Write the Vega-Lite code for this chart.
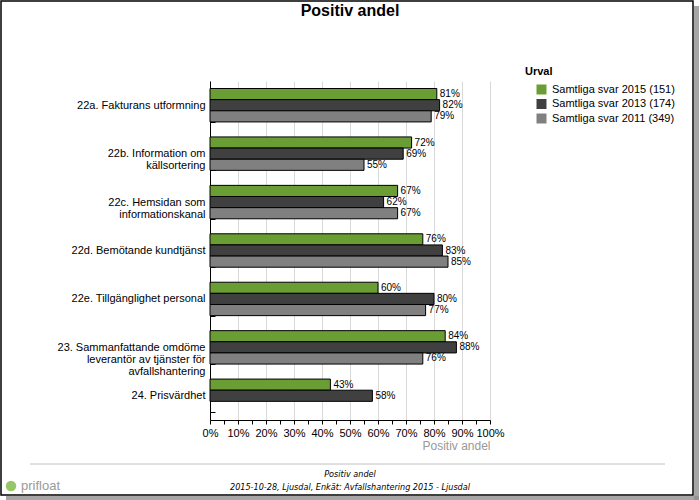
{
  "$schema": "https://vega.github.io/schema/vega-lite/v6.json",
  "autosize": {"type": "none"},
  "width": 280,
  "height": 339,
  "padding": {"left": 210, "top": 81, "right": 210, "bottom": 80},
  "background": "white",
  "config": {
    "font": "Liberation Sans",
    "view": {"stroke": null},
    "axis": {"labelFont": "Liberation Sans", "titleFont": "Liberation Sans", "labelOverlap": false},
    "axisX": {"labelOverlap": false, "labelSeparation": 0}
  },
  "title": {
    "text": "Positiv andel",
    "fontSize": 16,
    "fontWeight": "bold",
    "font": "Liberation Sans",
    "color": "black",
    "anchor": "middle",
    "frame": "group",
    "offset": -19
  },
  "data": {
    "values": [
      {"fraga": "22a. Fakturans utformning", "urval": "Samtliga svar 2015 (151)", "andel": 0.81},
      {"fraga": "22a. Fakturans utformning", "urval": "Samtliga svar 2013 (174)", "andel": 0.82},
      {"fraga": "22a. Fakturans utformning", "urval": "Samtliga svar 2011 (349)", "andel": 0.79},
      {"fraga": "22b. Information om|källsortering", "urval": "Samtliga svar 2015 (151)", "andel": 0.72},
      {"fraga": "22b. Information om|källsortering", "urval": "Samtliga svar 2013 (174)", "andel": 0.69},
      {"fraga": "22b. Information om|källsortering", "urval": "Samtliga svar 2011 (349)", "andel": 0.55},
      {"fraga": "22c. Hemsidan som|informationskanal", "urval": "Samtliga svar 2015 (151)", "andel": 0.67},
      {"fraga": "22c. Hemsidan som|informationskanal", "urval": "Samtliga svar 2013 (174)", "andel": 0.62},
      {"fraga": "22c. Hemsidan som|informationskanal", "urval": "Samtliga svar 2011 (349)", "andel": 0.67},
      {"fraga": "22d. Bemötande kundtjänst", "urval": "Samtliga svar 2015 (151)", "andel": 0.76},
      {"fraga": "22d. Bemötande kundtjänst", "urval": "Samtliga svar 2013 (174)", "andel": 0.83},
      {"fraga": "22d. Bemötande kundtjänst", "urval": "Samtliga svar 2011 (349)", "andel": 0.85},
      {"fraga": "22e. Tillgänglighet personal", "urval": "Samtliga svar 2015 (151)", "andel": 0.60},
      {"fraga": "22e. Tillgänglighet personal", "urval": "Samtliga svar 2013 (174)", "andel": 0.80},
      {"fraga": "22e. Tillgänglighet personal", "urval": "Samtliga svar 2011 (349)", "andel": 0.77},
      {"fraga": "23. Sammanfattande omdöme|leverantör av tjänster för|avfallshantering", "urval": "Samtliga svar 2015 (151)", "andel": 0.84},
      {"fraga": "23. Sammanfattande omdöme|leverantör av tjänster för|avfallshantering", "urval": "Samtliga svar 2013 (174)", "andel": 0.88},
      {"fraga": "23. Sammanfattande omdöme|leverantör av tjänster för|avfallshantering", "urval": "Samtliga svar 2011 (349)", "andel": 0.76},
      {"fraga": "24. Prisvärdhet", "urval": "Samtliga svar 2015 (151)", "andel": 0.43},
      {"fraga": "24. Prisvärdhet", "urval": "Samtliga svar 2013 (174)", "andel": 0.58}
    ]
  },
  "layer": [
    {
      "encoding": {
        "y": {
          "field": "fraga",
          "type": "nominal",
          "sort": null,
          "scale": {"paddingInner": 0.31, "paddingOuter": 0.155},
          "axis": {
            "title": null,
            "labelExpr": "split(datum.label, '|')",
            "labelFontSize": 11,
            "labelColor": "black",
            "labelLineHeight": 12,
            "labelLimit": 200,
            "domainColor": "black",
            "tickColor": "black",
            "tickBand": "extent",
            "tickSize": -5,
            "labelPadding": 10,
            "grid": false
          }
        },
        "x": {
          "field": "andel",
          "type": "quantitative",
          "scale": {"domain": [0, 1], "nice": false},
          "axis": {
            "title": "Positiv andel",
            "titleColor": "#999999",
            "titleFontSize": 12,
            "titleFontWeight": "normal",
            "titleAnchor": "end",
            "titlePadding": 2,
            "values": [0, 0.05, 0.1, 0.15, 0.2, 0.25, 0.3, 0.35, 0.4, 0.45, 0.5, 0.55, 0.6, 0.65, 0.7, 0.75, 0.8, 0.85, 0.9, 0.95, 1],
            "format": ".0%",
            "labelExpr": "round(datum.value*20) % 2 == 1 ? '' : datum.label",
            "labelOverlap": false,
            "labelFontSize": 11,
            "labelColor": "black",
            "labelFlush": false,
            "labelPadding": 3,
            "tickSize": 4,
            "tickColor": "black",
            "domainColor": "black",
            "grid": true,
            "gridColor": "#d9d9d9",
            "gridOpacity": {"condition": {"test": "round(datum.value*20) % 2 == 1", "value": 0}, "value": 1}
          }
        },
        "yOffset": {
          "field": "urval",
          "type": "nominal",
          "sort": ["Samtliga svar 2015 (151)", "Samtliga svar 2013 (174)", "Samtliga svar 2011 (349)"],
          "scale": {"domain": ["Samtliga svar 2015 (151)", "Samtliga svar 2013 (174)", "Samtliga svar 2011 (349)"], "paddingInner": 0, "paddingOuter": 0}
        }
      },
      "layer": [
        {
          "mark": {"type": "bar", "stroke": "black", "strokeWidth": 1},
          "encoding": {
            "color": {
              "field": "urval",
              "type": "nominal",
              "scale": {
                "domain": ["Samtliga svar 2015 (151)", "Samtliga svar 2013 (174)", "Samtliga svar 2011 (349)"],
                "range": ["#6a9e34", "#404040", "#808080"]
              },
              "legend": {
                "title": null,
                "orient": "none",
                "legendX": 326,
                "legendY": 3,
                "labelFontSize": 11,
                "labelColor": "black",
                "symbolType": "square",
                "symbolSize": 100,
                "symbolStrokeWidth": 0,
                "rowPadding": 2.5,
                "labelOffset": 5
              }
            }
          }
        },
        {
          "mark": {"type": "text", "align": "left", "baseline": "middle", "dx": 3, "fontSize": 10, "color": "black"},
          "encoding": {
            "text": {"field": "andel", "type": "quantitative", "format": ".0%"}
          }
        }
      ]
    },
    {
      "data": {"values": [{}]},
      "mark": {"type": "text", "align": "left", "baseline": "middle", "fontSize": 11, "fontWeight": "bold", "color": "black"},
      "encoding": {"x": {"value": 315}, "y": {"value": -9}, "text": {"value": "Urval"}}
    },
    {
      "data": {"values": [{}]},
      "mark": {"type": "rule", "color": "#c0c0c0", "strokeWidth": 1},
      "encoding": {"x": {"value": -180}, "x2": {"value": 455}, "y": {"value": 383}}
    },
    {
      "data": {"values": [{}]},
      "mark": {"type": "text", "align": "center", "baseline": "middle", "fontSize": 9, "fontStyle": "italic", "font": "DejaVu Sans Condensed", "color": "black"},
      "encoding": {"x": {"value": 140}, "y": {"value": 393}, "text": {"value": "Positiv andel"}}
    },
    {
      "data": {"values": [{}]},
      "mark": {"type": "text", "align": "center", "baseline": "middle", "fontSize": 9, "fontStyle": "italic", "font": "DejaVu Sans Condensed", "color": "black"},
      "encoding": {"x": {"value": 140}, "y": {"value": 406}, "text": {"value": "2015-10-28, Ljusdal, Enkät: Avfallshantering 2015 - Ljusdal"}}
    },
    {
      "data": {"values": [{}]},
      "mark": {"type": "point", "shape": "circle", "filled": true, "color": "#8cbf5a", "size": 110, "opacity": 0.9},
      "encoding": {"x": {"value": -199}, "y": {"value": 405}}
    },
    {
      "data": {"values": [{}]},
      "mark": {"type": "text", "align": "left", "baseline": "middle", "fontSize": 13, "color": "#9a9a9a"},
      "encoding": {"x": {"value": -189}, "y": {"value": 405}, "text": {"value": "prifloat"}}
    },
    {
      "data": {"values": [{}]},
      "mark": {"type": "rect", "fill": "#909090", "opacity": 0.8},
      "encoding": {"x": {"value": 484}, "x2": {"value": 489}, "y": {"value": -75}, "y2": {"value": 419}}
    },
    {
      "data": {"values": [{}]},
      "mark": {"type": "rect", "fill": "#909090", "opacity": 0.8},
      "encoding": {"x": {"value": -204}, "x2": {"value": 489}, "y": {"value": 415}, "y2": {"value": 419}}
    },
    {
      "data": {"values": [{}]},
      "mark": {"type": "rect", "fill": null, "fillOpacity": 0, "stroke": "black", "strokeWidth": 1.5},
      "encoding": {"x": {"value": -209}, "x2": {"value": 483}, "y": {"value": -80}, "y2": {"value": 414}}
    }
  ]
}
